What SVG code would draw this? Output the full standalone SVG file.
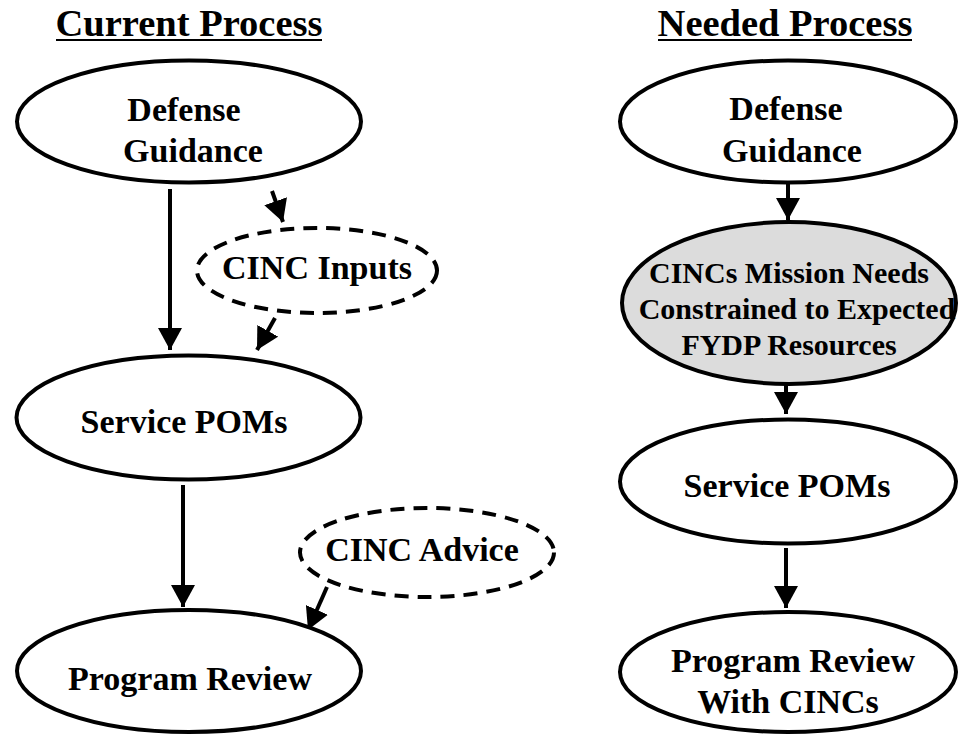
<svg xmlns="http://www.w3.org/2000/svg" width="958" height="735" viewBox="0 0 958 735">
<style>
.t{font-size:38.5px}
.n{font-size:34px}
.s{font-size:30px}
.e{fill:#fff;stroke:#000;stroke-width:4}
.g{fill:#dcdcdc;stroke:#000;stroke-width:4}
.d{fill:#fff;stroke:#000;stroke-width:4;stroke-dasharray:14 9}
.c{stroke:#000;stroke-width:4;fill:none}
.u{stroke:#000;stroke-width:2}
</style>
<defs>
<marker id="ah" viewBox="0 0 22 24" refX="22" refY="12" markerWidth="22" markerHeight="24" markerUnits="userSpaceOnUse" orient="auto">
<path d="M0,0 L22,12 L0,24 z" fill="#000"/>
</marker>
</defs>
<g font-family="'Liberation Serif', 'Times New Roman', 'DejaVu Serif', serif" font-weight="bold" text-anchor="middle" fill="#000">
<g id="titles">
<text class="t" x="189" y="36">Current Process</text>
<line class="u" x1="56" y1="40" x2="322" y2="40"/>
<text class="t" x="785" y="36">Needed Process</text>
<line class="u" x1="658" y1="40" x2="912" y2="40"/>
</g>
<g id="connectors">
<line class="c" x1="170" y1="189" x2="170" y2="350" marker-end="url(#ah)"/>
<line class="c" x1="272" y1="191" x2="283" y2="222" marker-end="url(#ah)"/>
<line class="c" x1="275" y1="318" x2="257" y2="350" marker-end="url(#ah)"/>
<line class="c" x1="183" y1="485" x2="183" y2="607" marker-end="url(#ah)"/>
<line class="c" x1="327" y1="587" x2="308" y2="630" marker-end="url(#ah)"/>
<line class="c" x1="788" y1="176" x2="788" y2="220" marker-end="url(#ah)"/>
<line class="c" x1="786" y1="369" x2="786" y2="414" marker-end="url(#ah)"/>
<line class="c" x1="786" y1="548" x2="786" y2="608" marker-end="url(#ah)"/>
</g>
<g id="cur-defense">
<ellipse class="e" cx="189" cy="121.5" rx="172" ry="61"/>
<text class="n" x="184" y="121">Defense</text>
<text class="n" x="193" y="162">Guidance</text>
</g>
<g id="cur-cinc-inputs">
<ellipse class="d" cx="317" cy="270.5" rx="120" ry="42.5"/>
<text class="n" x="317" y="279">CINC Inputs</text>
</g>
<g id="cur-service-poms">
<ellipse class="e" cx="188.5" cy="417.5" rx="172" ry="62"/>
<text class="n" x="184" y="433">Service POMs</text>
</g>
<g id="cur-cinc-advice">
<ellipse class="d" cx="427" cy="552.5" rx="127" ry="44.5"/>
<text class="n" x="422" y="561">CINC Advice</text>
</g>
<g id="cur-program-review">
<ellipse class="e" cx="189" cy="671" rx="172" ry="61"/>
<text class="n" x="190" y="690">Program Review</text>
</g>
<g id="need-defense">
<ellipse class="e" cx="788" cy="121.5" rx="168" ry="61"/>
<text class="n" x="786" y="120">Defense</text>
<text class="n" x="792" y="162">Guidance</text>
</g>
<g id="need-cincs">
<ellipse class="g" cx="789" cy="303" rx="167" ry="81"/>
<text class="s" x="789" y="283">CINCs Mission Needs</text>
<text class="s" x="797" y="319">Constrained to Expected</text>
<text class="s" x="789" y="355">FYDP Resources</text>
</g>
<g id="need-service-poms">
<ellipse class="e" cx="788" cy="481.5" rx="168" ry="62"/>
<text class="n" x="787" y="497">Service POMs</text>
</g>
<g id="need-program-review">
<ellipse class="e" cx="788" cy="672" rx="168" ry="60"/>
<text class="n" x="793" y="672">Program Review</text>
<text class="n" x="788" y="713">With CINCs</text>
</g>
</g>
</svg>
